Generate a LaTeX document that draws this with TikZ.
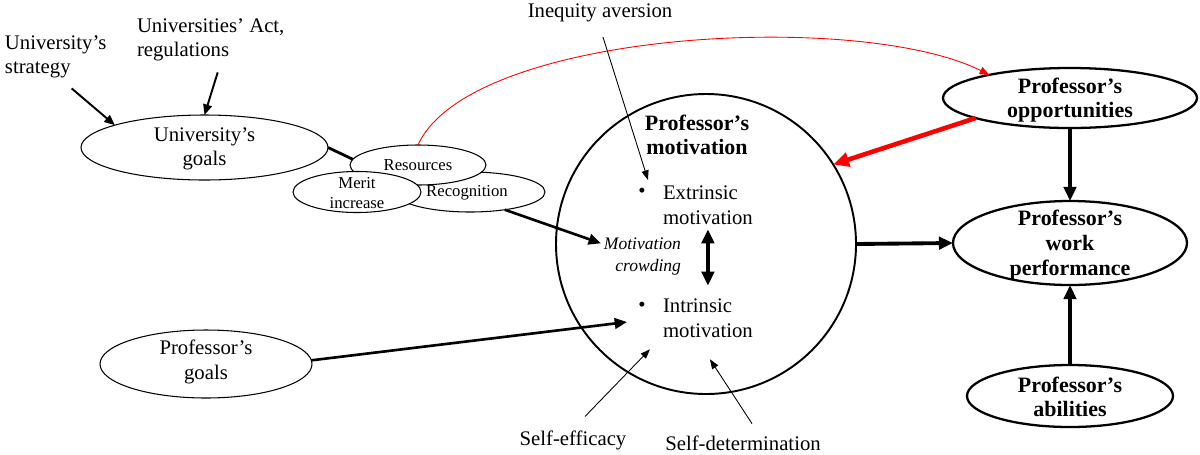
\documentclass[tikz,border=0pt]{standalone}
\usepackage{fontspec}
\setmainfont{Liberation Serif}
\usetikzlibrary{shapes.geometric,arrows.meta,calc}
\begin{document}
\begin{tikzpicture}[x=0.02cm,y=-0.02cm,
 every node/.style={inner sep=0pt, outer sep=0pt},
 txt/.style={font=\fontsize{11.8}{14}\selectfont, align=center},
 btxt/.style={font=\fontsize{12.5}{14}\selectfont\bfseries, align=center},
 stxt/.style={font=\fontsize{9.5}{11.3}\selectfont, align=center},
 itxt/.style={font=\fontsize{10}{12.5}\selectfont\itshape, align=right},
 ell/.style={draw, ellipse, line width=0.6pt, fill=white},
 bell/.style={draw, ellipse, line width=1.3pt, fill=white},
 thinarr/.style={-{Triangle[length=5.5pt,width=4pt]}, line width=0.5pt},
 medarr/.style={-{Triangle[length=6pt,width=5pt]}, line width=1.1pt},
 mtharr/.style={-{Triangle[length=7pt,width=6pt]}, line width=1.5pt},
 bigarr/.style={-{Triangle[length=8pt,width=7pt]}, line width=2.2pt},
]
\useasboundingbox (0,0) rectangle (1200,454);

% text nodes
\node[txt, align=left, anchor=west] (strat) at (5,57) {University’s\\strategy};
\node[txt, align=left, anchor=west] (act) at (137,40) {Universities’ Act,\\regulations};
\node[txt] (ineq) at (600,13) {Inequity aversion};
\node[txt] (seff) at (573,440) {Self-efficacy};
\node[txt] (sdet) at (743,443) {Self-determination};

% small overlapping ellipses
\node[ell, minimum width=150*0.02cm, minimum height=40*0.02cm] (rec) at (470,192) {};
\node[stxt] (rect) at (467,193) {Recognition};
\node[ell, minimum width=136*0.02cm, minimum height=40*0.02cm] (res) at (418,165) {};
\node[stxt] (rest) at (418,165) {Resources};
\node[ell, minimum width=128*0.02cm, minimum height=41*0.02cm] (mer) at (357,192) {};
\node[stxt] (mert) at (357,193) {Merit\\increase};

% university goals
\node[ell, minimum width=247*0.02cm, minimum height=65*0.02cm] (ugoals) at (204.5,147.5) {};
\node[txt] (ugt) at (204.5,149) {University’s\\goals};

% professor goals
\node[ell, minimum width=212*0.02cm, minimum height=68*0.02cm] (pgoals) at (206,364) {};
\node[txt] (pgt) at (206,362) {Professor’s\\goals};

% motivation circle
\node[draw, circle, line width=1.1pt, minimum size=300*0.02cm] (mot) at (706,244) {};
\node[btxt] (mott) at (697,135) {Professor’s\\motivation};
\node[txt] (ebul) at (642,193) {•};
\node[txt, align=left, anchor=west] (etxt) at (663,205) {Extrinsic\\motivation};
\node[txt] (ibul) at (642,307) {•};
\node[txt, align=left, anchor=west] (itxt) at (663,318) {Intrinsic\\motivation};
\node[itxt, anchor=east] (crowd) at (681,257) {Motivation\\crowding};

% right side
\node[bell, minimum width=254*0.02cm, minimum height=60*0.02cm] (opp) at (1070,98) {};
\node[btxt] (oppt) at (1070,100) {Professor’s\\opportunities};
\node[bell, minimum width=234*0.02cm, minimum height=84*0.02cm] (perf) at (1070,243) {};
\node[btxt] (perft) at (1070,245) {Professor’s\\work\\performance};
\node[bell, minimum width=206*0.02cm, minimum height=62*0.02cm] (abil) at (1070,396) {};
\node[btxt] (abilt) at (1070,397) {Professor’s\\abilities};

% connectors
\draw[medarr] ($(strat.south)+(16,10)$) -- (ugoals.166.6);
\draw[medarr] ($(act.south)+(7,11)$) -- (ugoals.north);
\draw[line width=1.6pt] (ugoals.east) -- (res.175);
\draw[mtharr] (rec.-27) -- ($(crowd.north west)+(-3,5)$);
\draw[mtharr] (pgoals.2) -- ($(ibul)+(-15,15)$);
\draw[thinarr] ($(ineq.south)+(3,15)$) -- ($(ebul)+(6,-13)$);
\draw[thinarr] ($(seff.north)+(12,-14)$) -- ($(itxt.south west)+(-13,12)$);
\draw[thinarr] ($(sdet.north)+(9,-12)$) -- ($(itxt.south)+(2,22)$);
\draw[{Triangle[length=8pt,width=7pt]}-{Triangle[length=8pt,width=7pt]}, line width=2.2pt] ($(etxt.south)+(0,5)$) -- ($(itxt.north)+(0,-13)$);
\draw[red, line width=0.5pt, -{Triangle[length=5.5pt,width=4.5pt]}] (res.north) .. controls (470,30) and (860,10) .. (opp.164);
\draw[red, line width=2.6pt, -{Triangle[length=9pt,width=8pt]}] (opp.192.5) -- (mot.32);
\draw[bigarr] (mot.east) -- (perf.west);
\draw[bigarr] (opp.south) -- (perf.north);
\draw[bigarr] (abil.north) -- (perf.south);
\end{tikzpicture}
\end{document}
